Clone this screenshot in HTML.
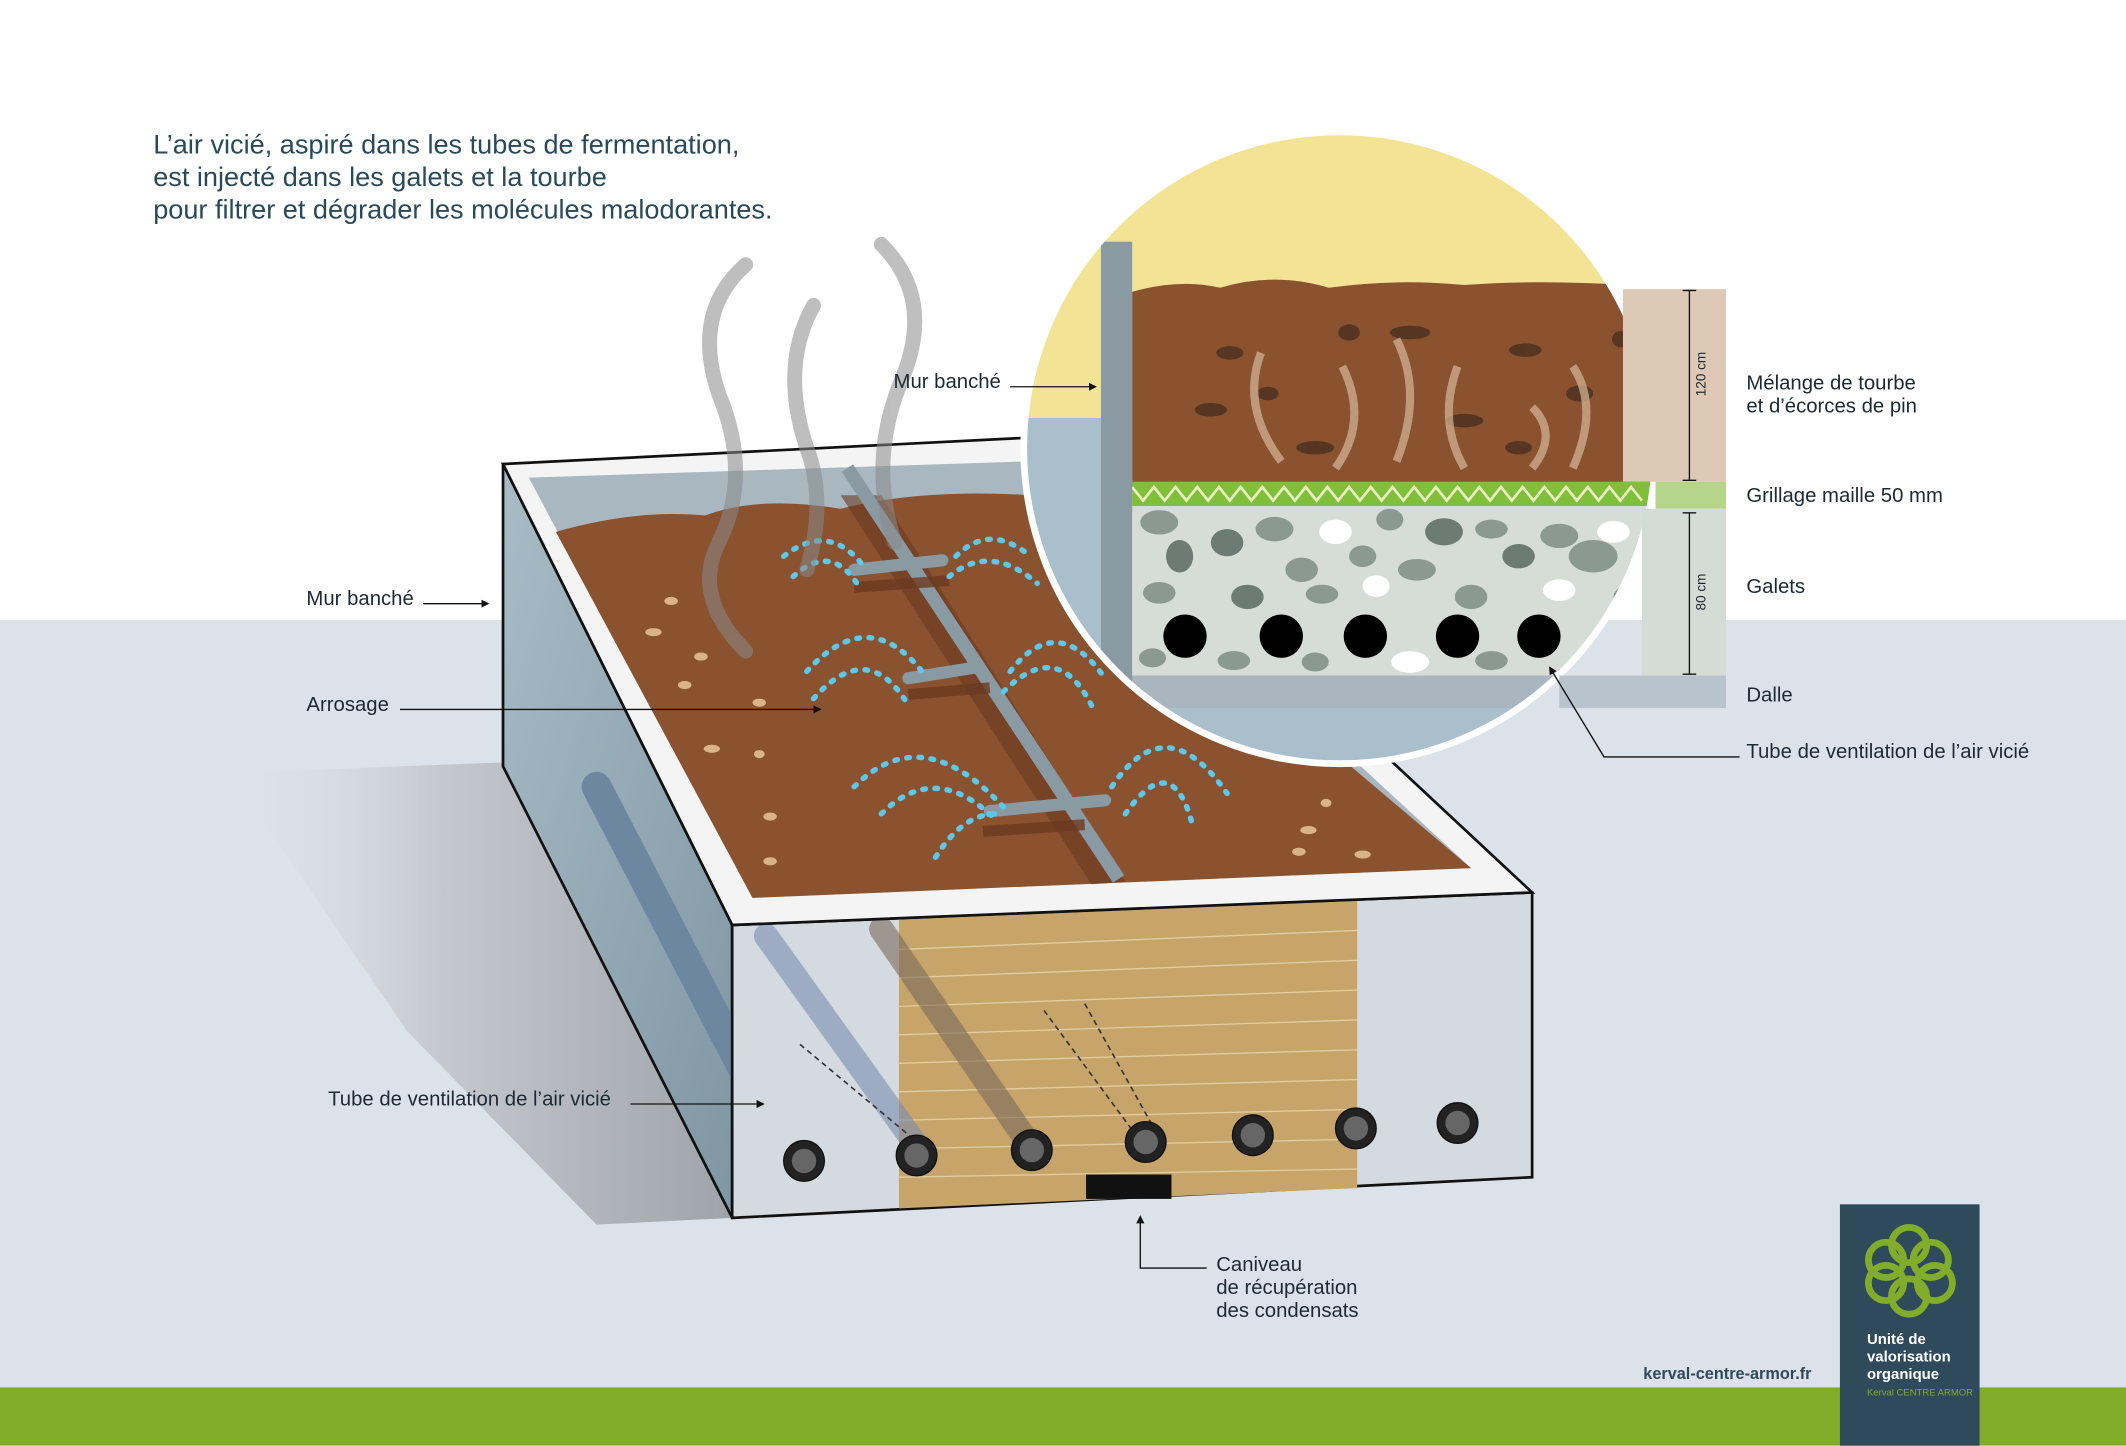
<!DOCTYPE html>
<html><head><meta charset="utf-8"><style>
html,body{margin:0;padding:0;width:2126px;height:1446px;overflow:hidden;background:#fff}
svg{display:block}
text{font-family:"Liberation Sans",sans-serif;fill:#1d2a33}
</style></head><body>
<svg width="2126" height="1446" viewBox="0 0 1568 1066" xmlns="http://www.w3.org/2000/svg">
<defs>
<linearGradient id="sh" x1="0" y1="0" x2="1" y2="0"><stop offset="0" stop-color="#dce2ea" stop-opacity="0"/><stop offset="0.4" stop-color="#c0c4c9"/><stop offset="1" stop-color="#8f9499"/></linearGradient>
<linearGradient id="lw" x1="0" y1="0" x2="1" y2="1"><stop offset="0" stop-color="#a8bcc6"/><stop offset="1" stop-color="#7f96a3"/></linearGradient>
<clipPath id="cc"><circle cx="988" cy="330" r="233"/></clipPath>
<marker id="ar" markerWidth="6" markerHeight="6" refX="5" refY="3" orient="auto"><path d="M0,0 L6,3 L0,6 Z" fill="#111"/></marker>
</defs>
<rect x="0" y="0" width="1568" height="457" fill="#fff"/>
<rect x="0" y="457" width="1568" height="566" fill="#dce2ea"/>
<rect x="0" y="1023" width="1568" height="43" fill="#82ad2a"/>

<text font-size="20" fill="#2a4a5a"><tspan x="113" y="113" style="fill:#2a4a5a">L’air vicié, aspiré dans les tubes de fermentation,</tspan><tspan x="113" y="137" style="fill:#2a4a5a">est injecté dans les galets et la tourbe</tspan><tspan x="113" y="161" style="fill:#2a4a5a">pour filtrer et dégrader les molécules malodorantes.</tspan></text>

<!-- shadow -->
<polygon points="170,570 371,562 540,898 440,903 300,760" fill="url(#sh)" opacity="0.8"/>
<!-- left wall -->
<polygon points="371,342 540,682 540,898 371,565" fill="url(#lw)" stroke="#111" stroke-width="2"/>
<line x1="440" y1="580" x2="580" y2="850" stroke="#6e87a0" stroke-width="22" stroke-linecap="round"/>
<!-- front face -->
<polygon points="540,682 1130,658 1130,868 540,898" fill="#d4dbe0" stroke="#111" stroke-width="2"/>
<polygon points="663,678 1001,664 1001,876 663,891" fill="#c7a46a"/>
<g stroke="#e3cca0" stroke-width="1">
<line x1="663" y1="700" x2="1001" y2="686"/><line x1="663" y1="721" x2="1001" y2="708"/><line x1="663" y1="742" x2="1001" y2="730"/><line x1="663" y1="763" x2="1001" y2="752"/><line x1="663" y1="784" x2="1001" y2="774"/><line x1="663" y1="805" x2="1001" y2="796"/><line x1="663" y1="826" x2="1001" y2="818"/><line x1="663" y1="847" x2="1001" y2="840"/><line x1="663" y1="868" x2="1001" y2="862"/>
</g>
<g stroke-width="18" stroke-linecap="round" opacity="0.6">
<line x1="565" y1="690" x2="680" y2="850" stroke="#7a8cb0"/>
<line x1="650" y1="685" x2="760" y2="845" stroke="#7a6a5a"/>
</g>
<g stroke="#333" stroke-dasharray="4,3" stroke-width="1.2">
<line x1="590" y1="770" x2="680" y2="845"/><line x1="770" y1="745" x2="840" y2="840"/><line x1="800" y1="740" x2="850" y2="830"/>
</g>
<g fill="#222" stroke="#111"><circle cx="593" cy="856" r="15"/><circle cx="676" cy="852" r="15"/><circle cx="761" cy="848" r="15"/><circle cx="845" cy="842" r="15"/><circle cx="924" cy="837" r="15"/><circle cx="1000" cy="832" r="15"/><circle cx="1075" cy="828" r="15"/></g>
<g fill="#666"><circle cx="593" cy="856" r="9"/><circle cx="676" cy="852" r="9"/><circle cx="761" cy="848" r="9"/><circle cx="845" cy="842" r="9"/><circle cx="924" cy="837" r="9"/><circle cx="1000" cy="832" r="9"/><circle cx="1075" cy="828" r="9"/></g>
<rect x="801" y="866" width="63" height="18" fill="#111"/>
<!-- top rim -->
<polygon points="371,342 770,322 1130,658 540,682" fill="#f4f4f4" stroke="#111" stroke-width="2"/>
<polygon points="390,352 760,340 1085,640 555,662" fill="#a9b8c0"/>
<path d="M410,392 Q470,375 520,380 Q560,365 620,375 Q680,360 760,365 L1085,640 L555,662 Z" fill="#8b5230"/>
<g fill="#d9b48a"><ellipse cx="495" cy="443" rx="5" ry="3"/><ellipse cx="482" cy="466" rx="6" ry="3"/><ellipse cx="517" cy="484" rx="5" ry="3"/><ellipse cx="505" cy="505" rx="5" ry="3"/><ellipse cx="560" cy="518" rx="5" ry="3"/><ellipse cx="525" cy="552" rx="6" ry="3"/><ellipse cx="560" cy="556" rx="4" ry="3"/><ellipse cx="568" cy="602" rx="5" ry="3"/><ellipse cx="568" cy="635" rx="5" ry="3"/><ellipse cx="965" cy="612" rx="6" ry="3"/><ellipse cx="1005" cy="630" rx="6" ry="3"/><ellipse cx="958" cy="628" rx="5" ry="3"/><ellipse cx="978" cy="592" rx="4" ry="3"/></g>
<polygon points="620,365 650,365 830,650 805,652" fill="#6b3a20" opacity="0.6"/>
<line x1="625" y1="345" x2="825" y2="648" stroke="#8a9aa3" stroke-width="10"/>
<g stroke="#8a9aa3" stroke-width="9" stroke-linecap="round"><line x1="630" y1="420" x2="695" y2="413"/><line x1="670" y1="500" x2="720" y2="492"/><line x1="730" y1="598" x2="815" y2="590"/></g>
<g stroke="#6b3a20" stroke-width="8" opacity="0.8"><line x1="630" y1="433" x2="700" y2="428"/><line x1="670" y1="512" x2="730" y2="507"/><line x1="725" y1="613" x2="800" y2="608"/></g>
<g fill="none" stroke="#5ec8ea" stroke-width="4" stroke-dasharray="2,7" stroke-linecap="round">
<path d="M578,410 Q610,385 635,415"/><path d="M585,425 Q612,400 632,430"/><path d="M705,410 Q730,385 760,410"/><path d="M700,425 Q730,400 765,430"/>
<path d="M595,495 Q640,445 680,495"/><path d="M600,515 Q640,470 670,520"/><path d="M745,495 Q780,450 815,500"/><path d="M740,510 Q780,470 805,520"/>
<path d="M630,580 Q680,530 740,595"/><path d="M650,600 Q690,560 735,605"/><path d="M690,632 Q710,600 735,600"/><path d="M820,580 Q860,520 905,585"/><path d="M830,600 Q865,550 880,610"/>
</g>
<g fill="none" stroke="#8a8a8a" stroke-width="11" stroke-linecap="round" opacity="0.55">
<path d="M550,195 Q510,230 530,290 Q555,350 530,400 Q510,440 550,480"/>
<path d="M600,225 Q575,270 595,330 Q610,370 595,420"/>
<path d="M650,180 Q690,220 665,280 Q640,340 660,400"/>
</g>
<!-- circle detail -->
<g clip-path="url(#cc)">
<rect x="740" y="90" width="500" height="500" fill="#f3e394"/>
<rect x="740" y="308" width="80" height="280" fill="#a9bfcc"/>
<rect x="740" y="520" width="500" height="80" fill="#a9bfcc"/>
<path d="M835,215 Q870,205 900,212 Q940,200 980,212 Q1030,205 1080,210 Q1140,205 1230,212 L1230,360 L835,360 Z" fill="#8b5230"/>
<g fill="#4a3020" opacity="0.8"><ellipse cx="907" cy="260" rx="10" ry="5"/><ellipse cx="995" cy="245" rx="8" ry="6"/><ellipse cx="1040" cy="245" rx="15" ry="5"/><ellipse cx="1125" cy="258" rx="12" ry="5"/><ellipse cx="893" cy="302" rx="12" ry="5"/><ellipse cx="935" cy="290" rx="8" ry="5"/><ellipse cx="970" cy="330" rx="14" ry="5"/><ellipse cx="1080" cy="310" rx="14" ry="5"/><ellipse cx="1165" cy="290" rx="10" ry="6"/><ellipse cx="1120" cy="330" rx="10" ry="5"/><ellipse cx="1195" cy="250" rx="6" ry="6"/></g>
<g fill="none" stroke="#d7b89a" stroke-width="6" opacity="0.7"><path d="M930,260 Q915,300 945,340"/><path d="M990,270 Q1010,310 985,345"/><path d="M1030,250 Q1050,290 1030,340"/><path d="M1075,270 Q1060,310 1080,345"/><path d="M1130,300 Q1150,320 1130,345"/><path d="M1160,270 Q1180,300 1160,345"/></g>
<rect x="835" y="355" width="400" height="18" fill="#7fbf3a"/>
<path d="M835,359 l8,10 l8,-10 l8,10 l8,-10 l8,10 l8,-10 l8,10 l8,-10 l8,10 l8,-10 l8,10 l8,-10 l8,10 l8,-10 l8,10 l8,-10 l8,10 l8,-10 l8,10 l8,-10 l8,10 l8,-10 l8,10 l8,-10 l8,10 l8,-10 l8,10 l8,-10 l8,10 l8,-10 l8,10 l8,-10 l8,10 l8,-10 l8,10 l8,-10 l8,10 l8,-10 l8,10 l8,-10 l8,10 l8,-10 l8,10 l8,-10 l8,10 l8,-10 l8,10" fill="none" stroke="#e8f0c0" stroke-width="2"/>
<rect x="835" y="373" width="400" height="125" fill="#d6ddd6"/>
<g fill="#8a9a90">
<ellipse cx="855" cy="385" rx="14" ry="9"/><ellipse cx="905" cy="400" rx="12" ry="10" fill="#6c7c74"/><ellipse cx="940" cy="390" rx="14" ry="9"/><ellipse cx="985" cy="392" rx="12" ry="9" fill="#fff"/><ellipse cx="1025" cy="383" rx="10" ry="8"/><ellipse cx="1065" cy="392" rx="14" ry="10" fill="#6c7c74"/><ellipse cx="1100" cy="390" rx="12" ry="7"/><ellipse cx="1150" cy="395" rx="14" ry="9"/><ellipse cx="1190" cy="392" rx="12" ry="8" fill="#fff"/>
<ellipse cx="870" cy="410" rx="10" ry="12" fill="#6c7c74"/><ellipse cx="960" cy="420" rx="12" ry="9"/><ellipse cx="1005" cy="410" rx="10" ry="8"/><ellipse cx="1045" cy="420" rx="14" ry="8"/><ellipse cx="1120" cy="410" rx="12" ry="9" fill="#6c7c74"/><ellipse cx="1175" cy="410" rx="18" ry="12"/>
<ellipse cx="855" cy="437" rx="12" ry="8"/><ellipse cx="920" cy="440" rx="12" ry="9" fill="#6c7c74"/><ellipse cx="975" cy="438" rx="12" ry="7"/><ellipse cx="1015" cy="432" rx="10" ry="8" fill="#fff"/><ellipse cx="1085" cy="440" rx="12" ry="9"/><ellipse cx="1150" cy="435" rx="12" ry="8" fill="#fff"/><ellipse cx="1200" cy="440" rx="10" ry="8"/>
<ellipse cx="850" cy="485" rx="10" ry="7"/><ellipse cx="910" cy="487" rx="12" ry="7"/><ellipse cx="1040" cy="488" rx="14" ry="8" fill="#fff"/><ellipse cx="1100" cy="487" rx="12" ry="7"/><ellipse cx="1180" cy="485" rx="10" ry="7"/><ellipse cx="970" cy="488" rx="10" ry="7"/>
</g>
<g fill="#000"><circle cx="874" cy="469" r="16"/><circle cx="945" cy="469" r="16"/><circle cx="1007" cy="469" r="16"/><circle cx="1075" cy="469" r="16"/><circle cx="1135" cy="469" r="16"/></g>
<rect x="812" y="498" width="430" height="24" fill="#a9b6bf"/>
<rect x="812" y="178" width="23" height="344" fill="#8a9aa3"/>
</g>
<circle cx="988" cy="330" r="233" fill="none" stroke="#fff" stroke-width="5"/>
<rect x="1197" y="213" width="76" height="142" fill="#ddc9b6"/>
<rect x="1221" y="355" width="52" height="20" fill="#b5d58a"/>
<rect x="1211" y="375" width="62" height="123" fill="#d3ddd6"/>
<rect x="1150" y="498" width="123" height="24" fill="#b8c4cb"/>
<g stroke="#111" stroke-width="1"><line x1="1246" y1="214" x2="1246" y2="354"/><line x1="1246" y1="378" x2="1246" y2="497"/><line x1="1241" y1="214" x2="1251" y2="214"/><line x1="1241" y1="354" x2="1251" y2="354"/><line x1="1241" y1="378" x2="1251" y2="378"/><line x1="1241" y1="497" x2="1251" y2="497"/></g>
<text font-size="10" transform="translate(1258,292) rotate(-90)">120 cm</text>
<text font-size="10" transform="translate(1258,450) rotate(-90)">80 cm</text>

<g font-size="15">
<text x="1288" y="287">Mélange de tourbe</text><text x="1288" y="304">et d’écorces de pin</text>
<text x="1288" y="370">Grillage maille 50 mm</text>
<text x="1288" y="437">Galets</text>
<text x="1288" y="517">Dalle</text>
<text x="1288" y="559">Tube de ventilation de l’air vicié</text>
<text x="659" y="286">Mur banché</text>
<text x="226" y="446">Mur banché</text>
<text x="226" y="524">Arrosage</text>
<text x="242" y="815">Tube de ventilation de l’air vicié</text>
<text x="897" y="937">Caniveau</text><text x="897" y="954">de récupération</text><text x="897" y="971">des condensats</text>
</g>
<g stroke="#111" stroke-width="1" fill="none">
<path d="M1283,558 H1183 L1143,492" marker-end="url(#ar)"/>
<line x1="745" y1="285" x2="808" y2="285" marker-end="url(#ar)"/>
<line x1="312" y1="445" x2="360" y2="445" marker-end="url(#ar)"/>
<line x1="295" y1="523" x2="605" y2="523" marker-end="url(#ar)"/>
<line x1="465" y1="814" x2="563" y2="814" marker-end="url(#ar)"/>
<path d="M890,935 H841 V897" marker-end="url(#ar)"/>
</g>
<text x="1212" y="1017" font-size="12" font-weight="bold" style="fill:#2f4a5a">kerval-centre-armor.fr</text>
<rect x="1357" y="888" width="103" height="178" fill="#2f4a5a"/>
<g fill="none" stroke="#82ad2a" stroke-width="5">
<circle cx="1408" cy="918" r="13"/><circle cx="1424" cy="929" r="13"/><circle cx="1427" cy="946" r="13"/><circle cx="1408" cy="956" r="13"/><circle cx="1391" cy="946" r="13"/><circle cx="1391" cy="929" r="13"/>
</g>
<text font-size="11" font-weight="bold" style="fill:#fff"><tspan x="1377" y="991" style="fill:#fff">Unité de</tspan><tspan x="1377" y="1004" style="fill:#fff">valorisation</tspan><tspan x="1377" y="1017" style="fill:#fff">organique</tspan></text>
<text x="1377" y="1029" font-size="7" style="fill:#82ad2a">Kerval CENTRE ARMOR</text>
</svg>
</body></html>
